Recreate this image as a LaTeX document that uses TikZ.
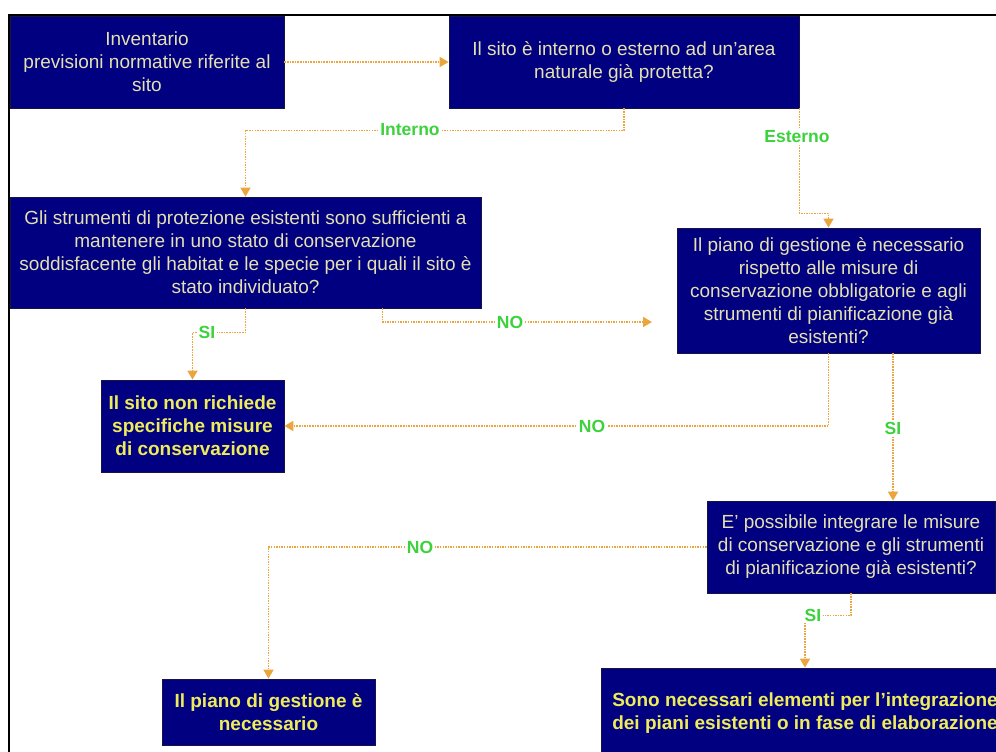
\documentclass[tikz,border=0pt]{standalone}
\usepackage{fontspec}
\setmainfont{Liberation Sans}
\usetikzlibrary{arrows.meta,calc}
\definecolor{boxblue}{RGB}{0,0,128}
\definecolor{boxedge}{RGB}{20,20,70}
\definecolor{txtreg}{RGB}{228,224,175}
\definecolor{txtbold}{RGB}{238,236,90}
\definecolor{linkor}{RGB}{235,165,60}
\definecolor{lblgreen}{RGB}{60,210,60}
\tikzset{
 qbox/.style={draw=boxedge, line width=0.8pt, fill=boxblue, text=txtreg, align=center, inner sep=0pt, font=\fontsize{19}{23}\selectfont},
 abox/.style={qbox, text=txtbold, font=\bfseries\fontsize{19}{23}\selectfont},
 link/.style={draw=linkor, line width=1.7pt, dash pattern=on 1.5pt off 1.1pt, -{Triangle[width=10pt,length=9pt]}},
 lbl/.style={text=lblgreen, fill=white, inner sep=1.5pt, font=\bfseries\fontsize{17.5}{20}\selectfont},
 frameline/.style={draw=black, line width=2pt},
}
\begin{document}
\begin{tikzpicture}[x=1pt,y=-1pt]
\useasboundingbox (0,0) rectangle (996,752);
\clip (0,0) rectangle (996,752);
\fill[white] (0,0) rectangle (996,752);
\draw[frameline] (9,752) -- (9,15) -- (996,15);

\node[qbox, minimum width=274pt, minimum height=92pt] (box1) at (147,62) {Inventario\\previsioni normative riferite al\\sito};
\node[qbox, minimum width=350pt, minimum height=92pt] (box2) at (624,62) {Il sito è interno o esterno ad un'area\\naturale già protetta?};
\node[qbox, minimum width=471pt, minimum height=111pt] (box3) at (245.5,252.5) {Gli strumenti di protezione esistenti sono sufficienti a\\mantenere in uno stato di conservazione\\soddisfacente gli habitat e le specie per i quali il sito è\\stato individuato?};
\node[qbox, minimum width=303pt, minimum height=125pt] (box4) at (828.5,290.5) {Il piano di gestione è necessario\\rispetto alle misure di\\conservazione obbligatorie e agli\\strumenti di pianificazione già\\esistenti?};
\node[abox, minimum width=183pt, minimum height=92pt] (box5) at (192.5,426) {Il sito non richiede\\specifiche misure\\di conservazione};
\node[qbox, minimum width=288pt, minimum height=92pt] (box6) at (851,547) {E' possibile integrare le misure\\di conservazione e gli strumenti\\di pianificazione già esistenti?};
\node[abox, minimum width=213pt, minimum height=66pt] (box7) at (268.5,712) {Il piano di gestione è\\necessario};
\node[abox, minimum width=408pt, minimum height=90pt] (box8) at (805,713) {Sono necessari elementi per l'integrazione\\dei piani esistenti o in fase di elaborazione};

\coordinate (noend) at (652,322);

\draw[link] (box1.east) -- (box2.west);
\draw[link] (box2.south) -- ++(0,22) -| (box3.north);
\draw[link] (box2.south east) -- ++(0,105) -| (box4.north);
\draw[link] (box3.south) -- ++(0,24) -| (box5.north);
\draw[link] ($(box3.south)+(137,0)$) |- (noend);
\draw[link] (box4.south) |- (box5.east);
\draw[link] ($(box4.south)+(64.5,0)$) -- ($(box6.north)+(42,0)$);
\draw[link] (box6.west) -| (box7.north);
\draw[link] (box6.south) -- ++(0,22) -| (box8.north);

\node[lbl] (l1) at (410,130) {Interno};
\node[lbl] (l2) at (797,137) {Esterno};
\node[lbl] (l3) at (207,332) {SI};
\node[lbl] (l4) at (510,322) {NO};
\node[lbl] (l5) at (592,426) {NO};
\node[lbl] (l6) at (893,428) {SI};
\node[lbl] (l7) at (420,547) {NO};
\node[lbl] (l8) at (813,615) {SI};
\end{tikzpicture}
\end{document}
